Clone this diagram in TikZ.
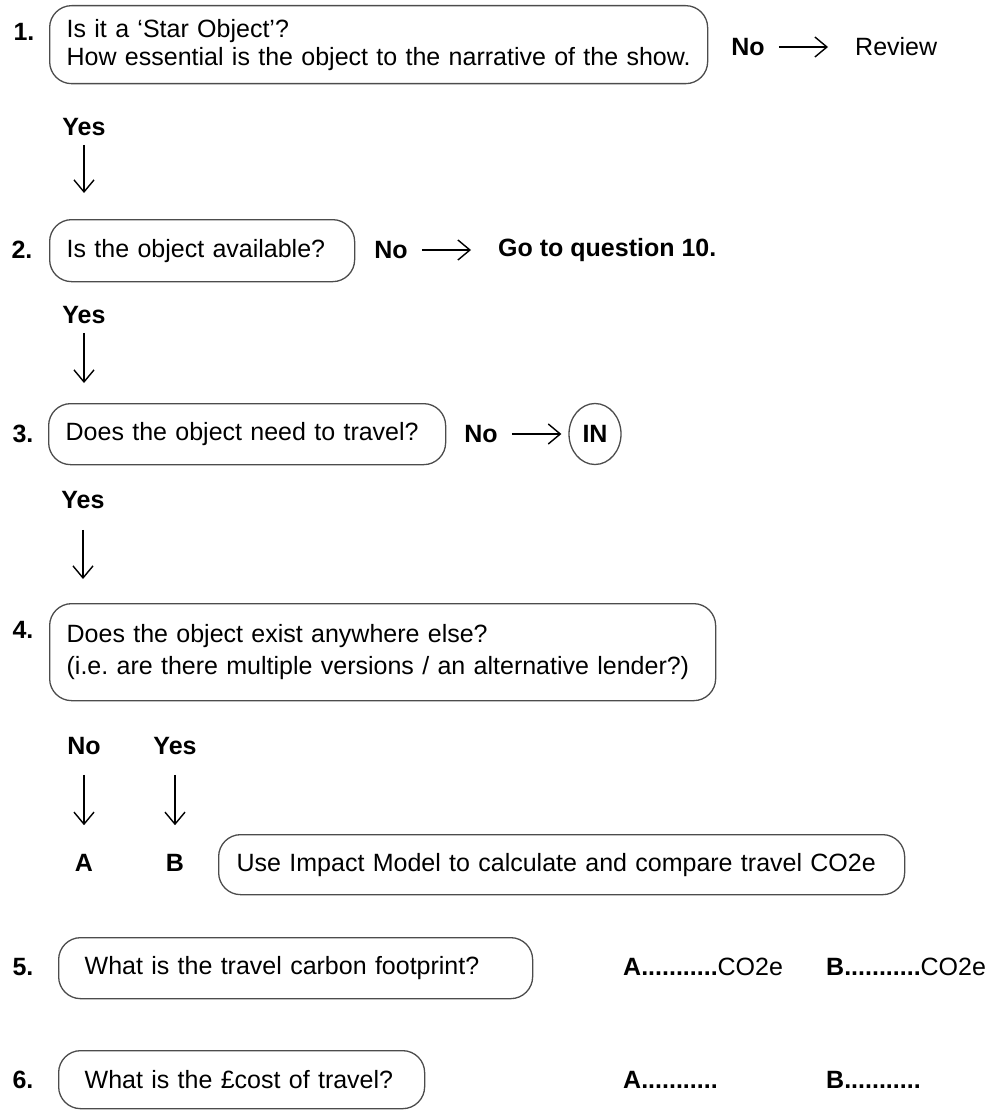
\documentclass[tikz,border=0pt]{standalone}
\usepackage{fontspec}
\setmainfont{Liberation Sans}
\usetikzlibrary{arrows.meta,shapes.geometric}

\tikzset{
    qbox/.style={draw=black!70,line width=1.3pt,rounded corners=22pt,
        align=left,inner xsep=17pt,inner ysep=0pt,anchor=north west},
    num/.style={font=\fontsize{25}{30}\selectfont\bfseries,inner sep=0pt},
    lbl/.style={font=\fontsize{25}{30}\selectfont,inner sep=0pt},
    bld/.style={font=\fontsize{25}{30}\selectfont\bfseries,inner sep=0pt},
    arr/.style={line width=1.4pt,-{Straight Barb[length=12pt,width=20pt]}},
}

\begin{document}
\begin{tikzpicture}[x=1pt,y=-1pt,font=\fontsize{25}{30}\selectfont]
    \useasboundingbox (0,0) rectangle (987,1110);
    % question 1
    \node[num] (n1) at (24,32) {1.};
    \node[qbox,text width=624pt,minimum height=78pt,font=\fontsize{25}{28}\selectfont] (q1) at (49,5)
        {Is it a ‘Star Object’?\\How essential is the object to the narrative of the show.};
    \node[bld] (no1) at (748,47) {No};
    \node[lbl,anchor=west] (rev1) at (855,47) {Review};
    \draw[arr,shorten <=14pt,shorten >=27pt] (no1) -- (rev1);
    \node[bld] (yes1) at (84,127) {Yes};
    % question 2
    \node[num] (n2) at (22,250) {2.};
    \node[qbox,text width=271pt,minimum height=62pt] (q2) at (49,219) {Is the object available?};
    \draw[arr,shorten <=9pt,shorten >=26pt] (yes1) -- (yes1 |- q2.north);
    \node[bld] (no2) at (391,250) {No};
    \node[bld,anchor=west] (go2) at (498,250) {Go to question 10.};
    \draw[arr,shorten <=14pt,shorten >=27pt] (no2) -- (go2);
    \node[bld] (yes2) at (84,315) {Yes};
    % question 3
    \node[num] (n3) at (23,434) {3.};
    \node[qbox,text width=363pt,minimum height=61pt] (q3) at (48,403) {Does the object need to travel?};
    \draw[arr,shorten <=9pt,shorten >=20pt] (yes2) -- (yes2 |- q3.north);
    \node[bld] (no3) at (481,434) {No};
    \node[bld,draw=black!70,line width=1.3pt,ellipse,minimum width=52pt,minimum height=61pt] (in3) at (595,434) {IN};
    \draw[arr,shorten <=14pt,shorten >=7pt] (no3) -- (in3);
    \node[bld] (yes3) at (83,500) {Yes};
    % question 4
    \node[num] (n4) at (23,630) {4.};
    \node[qbox,text width=632pt,minimum height=97pt,font=\fontsize{25}{32}\selectfont] (q4) at (49,603)
        {Does the object exist anywhere else?\\(i.e.\ are there multiple versions / an alternative lender?)};
    \draw[arr,shorten <=21pt,shorten >=24pt] (yes3) -- (yes3 |- q4.north);
    \node[bld] (no4) at (84,746) {No};
    \node[bld] (yes4) at (175,746) {Yes};
    \node[bld] (a4) at (84,863) {A};
    \node[bld] (b4) at (175,863) {B};
    \draw[arr,shorten <=20pt,shorten >=29pt] (no4) -- (a4);
    \draw[arr,shorten <=20pt,shorten >=29pt] (yes4) -- (b4);
    \node[qbox,inner xsep=18pt,text width=650pt,minimum height=60pt] (calc) at (218,834)
        {Use Impact Model to calculate and compare travel CO2e};
    % question 5
    \node[num] (n5) at (23,967) {5.};
    \node[qbox,inner xsep=26pt,text width=422pt,minimum height=61pt] (q5) at (58,937)
        {What is the travel carbon footprint?};
    \node[lbl,anchor=west] (a5) at (623,967) {\bfseries A...........\mdseries CO2e};
    \node[lbl,anchor=west] (b5) at (826,967) {\bfseries B...........\mdseries CO2e};
    % question 6
    \node[num] (n6) at (23,1080) {6.};
    \node[qbox,inner xsep=26pt,text width=314pt,minimum height=58pt] (q6) at (58,1050)
        {What is the £cost of travel?};
    \node[bld,anchor=west] (a6) at (623,1080) {A...........};
    \node[bld,anchor=west] (b6) at (826,1080) {B...........};
\end{tikzpicture}
\end{document}
